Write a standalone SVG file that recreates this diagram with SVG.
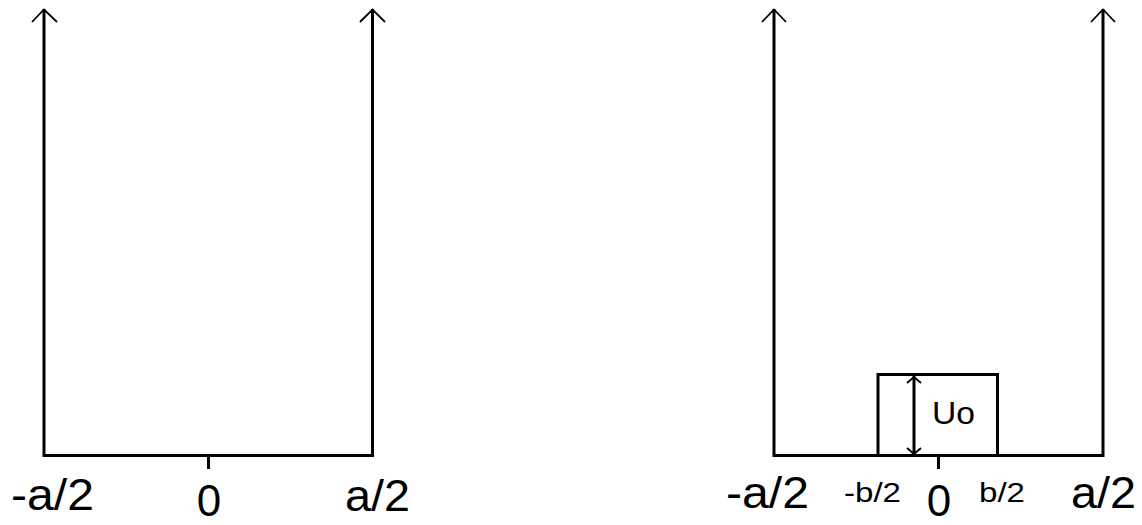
<svg xmlns="http://www.w3.org/2000/svg" width="1142" height="525" viewBox="0 0 1142 525">
<style>
.ln{fill:none;stroke:#000;stroke-width:3;stroke-linecap:butt}
.hd{fill:none;stroke:#000;stroke-width:1.8}
.t{font-family:"Liberation Sans",Arial,sans-serif;fill:#000}
</style>
<rect width="1142" height="525" fill="#fff"/>
<g id="connectors">
<!-- left well -->
<path class="ln" d="M44 9 V455.5 H372.5 V9"/>
<path class="hd" d="M32 22 L44 9.5 L57 22"/>
<path class="hd" d="M360 22 L372.5 9.5 L385 22"/>
<path class="ln" d="M208.5 455 V469"/>
<!-- right well -->
<path class="ln" d="M774 9 V455.5 H1103 V9"/>
<path class="hd" d="M762 22 L774 9.5 L786 22"/>
<path class="hd" d="M1091 22 L1103 9.5 L1115 22"/>
<path class="ln" d="M938.5 455 V469"/>
<!-- inner arrow -->
<path class="ln" d="M914 376 V455"/>
<path class="hd" d="M907 383 L914 377 L921 383"/>
<path class="hd" d="M907 448 L914 454 L921 448"/>
</g>
<g id="barrier">
<rect x="878" y="374.5" width="119.5" height="81" fill="none" stroke="#000" stroke-width="3"/>
<text class="t" x="932" y="424" font-size="32" textLength="43" lengthAdjust="spacingAndGlyphs">Uo</text>
</g>
<g id="left-labels">
<text class="t" x="11" y="510" font-size="44" textLength="83" lengthAdjust="spacingAndGlyphs">-a/2</text>
<text class="t" x="209" y="516" font-size="44" text-anchor="middle">0</text>
<text class="t" x="345" y="511" font-size="44" textLength="65" lengthAdjust="spacingAndGlyphs">a/2</text>
</g>
<g id="right-labels">
<text class="t" x="726" y="508" font-size="44" textLength="83" lengthAdjust="spacingAndGlyphs">-a/2</text>
<text class="t" x="844" y="502" font-size="28" textLength="57" lengthAdjust="spacingAndGlyphs">-b/2</text>
<text class="t" x="939" y="516" font-size="44" text-anchor="middle">0</text>
<text class="t" x="979" y="502" font-size="28" textLength="46" lengthAdjust="spacingAndGlyphs">b/2</text>
<text class="t" x="1071" y="508" font-size="44" textLength="65" lengthAdjust="spacingAndGlyphs">a/2</text>
</g>
</svg>
